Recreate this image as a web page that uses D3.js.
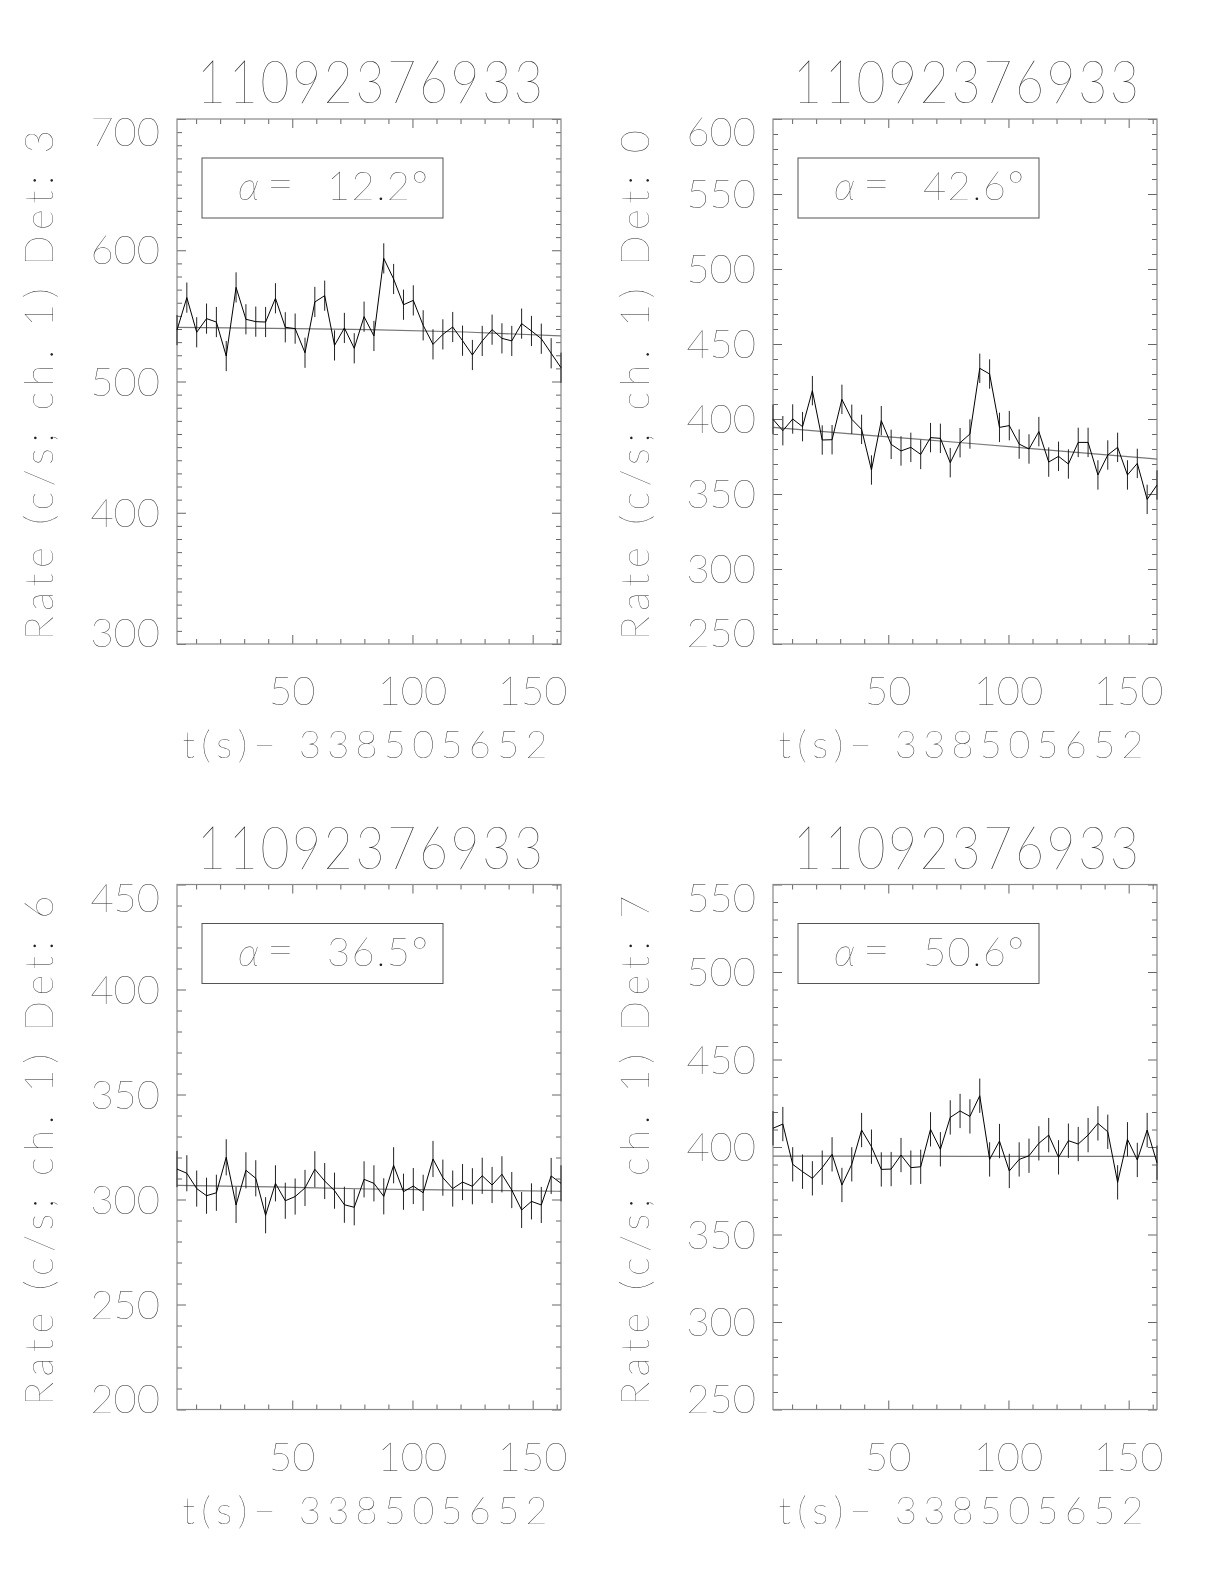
<!DOCTYPE html>
<html>
<head>
<meta charset="UTF-8" />
<title>rate curves</title>
<script src="https://cdn.jsdelivr.net/npm/d3@7/dist/d3.min.js"></script>
<style>
  body { margin: 0; background: #fff; }
  svg { will-change: transform; }
  text {
    font-family: "Lato Thin", "Lato", "DejaVu Sans", sans-serif;
    font-weight: 200;
    fill: #222;
  }
</style>
</head>
<body>
<svg width="1224" height="1584"></svg>
<script>
  // bin centres, s after t0
  var times = [2.05, 6.14, 10.24, 14.34, 18.43, 22.53, 26.62, 30.72, 34.82, 38.91,
    43.01, 47.10, 51.20, 55.30, 59.39, 63.49, 67.58, 71.68, 75.78, 79.87,
    83.97, 88.06, 92.16, 96.26, 100.35, 104.45, 108.54, 112.64, 116.74, 120.83,
    124.93, 129.02, 133.12, 137.22, 141.31, 145.41, 149.50, 153.60, 157.70, 161.79];

  // count rates, ch. 1
  var ratesDet3 = [539.2, 563.9, 537.5, 547.9, 545.3, 519.4, 571.7, 547.4, 545.6, 545.3,
    563.4, 541.3, 540.3, 521.9, 560.6, 565.4, 527.5, 540.8, 525.3, 549.4,
    534.7, 593.8, 578.1, 558.5, 561.8, 542.8, 528.3, 535.9, 541.5, 531.1,
    520.2, 530.9, 539.5, 532.9, 530.9, 544.1, 538.5, 532.6, 521.5, 510.5];
  var ratesDet0 = [399.8, 392.2, 400.0, 394.9, 418.9, 386.0, 386.2, 413.1, 399.8, 393.1,
    366.0, 398.9, 383.1, 378.7, 381.1, 376.4, 387.6, 387.1, 370.9, 384.2,
    390.0, 433.8, 430.0, 394.4, 395.6, 383.3, 380.0, 391.6, 371.3, 375.1,
    370.0, 384.4, 384.4, 362.7, 376.0, 381.1, 362.7, 370.4, 346.4, 356.0];
  var ratesDet6 = [314.5, 312.5, 305.2, 301.8, 303.2, 320.1, 297.4, 313.9, 310.1, 292.5,
    307.7, 299.4, 301.4, 305.5, 314.4, 308.8, 304.2, 297.5, 296.3, 309.6,
    307.7, 301.5, 316.3, 303.7, 306.4, 303.2, 319.3, 310.4, 305.2, 308.3,
    306.3, 311.3, 306.9, 312.0, 304.5, 295.0, 299.1, 297.4, 311.2, 307.7];
  var ratesDet7 = [410.7, 413.1, 390.1, 385.9, 382.1, 388.2, 395.8, 378.3, 390.1, 409.7,
    400.2, 387.2, 387.4, 395.4, 388.2, 388.7, 410.1, 398.7, 416.9, 420.6,
    417.5, 429.3, 392.9, 403.4, 386.3, 392.9, 395.0, 402.1, 406.8, 394.1,
    403.6, 401.7, 406.8, 413.5, 408.7, 379.8, 404.4, 392.6, 409.7, 391.0];

  // background fit, read at a few times
  var fitTimes = [2.05, 42, 82, 122, 161.79];
  var fitDet3 = [541.3, 540.5, 539.5, 537.7, 534.7];
  var fitDet0 = [394.4, 389.1, 384.0, 378.6, 373.3];
  var fitDet6 = [306.7, 306.0, 305.0, 304.5, 303.9];
  var fitDet7 = [394.8, 394.8, 394.7, 394.7, 394.6];

  var dets = ["3", "0", "6", "7"];
  var alphas = ["12.2", "42.6", "36.5", "50.6"];
  var errs = [11.5, 9.8, 8.6, 9.8];
  var yRanges = [[300, 700], [250, 600], [200, 450], [250, 550]];
  var yMajorStep = [100, 50, 50, 50];
  var xLabels = [50, 100, 150];
  var burstId = "11092376933";
  var tZero = "338505652";

  var rates = [ratesDet3, ratesDet0, ratesDet6, ratesDet7];
  var fits = [fitDet3, fitDet0, fitDet6, fitDet7];

  var svg = d3.select("svg");
  var colX = [177, 773];
  var rowY = [119, 884.5];
  var W = 384, H = 525;

  dets.forEach(function (det, i) {
    var cx = colX[i % 2], ry = rowY[Math.floor(i / 2)];
    var g = svg.append("g");

    var x = d3.scaleLinear().domain([times[0], times[times.length - 1]]).range([cx, cx + W]);
    var y = d3.scaleLinear().domain(yRanges[i]).range([ry + H, ry]);

    var lo = yRanges[i][0], hi = yRanges[i][1];
    var yMaj = d3.range(lo, hi + 1, yMajorStep[i]);
    var yMin = d3.range(lo, hi + 1, 10).filter(function (v) { return yMaj.indexOf(v) < 0; });
    var xMaj = xLabels;
    var xMin = d3.range(10, 161, 10).filter(function (v) { return xMaj.indexOf(v) < 0; });

    // ticks on all four sides, pointing in
    function ticks(axis, vals, size, tr) {
      var a = g.append("g").attr("transform", tr)
        .call(axis.tickValues(vals).tickSize(size).tickFormat(""));
      a.select(".domain").remove();
      a.selectAll("line").attr("stroke", "#666");
    }
    ticks(d3.axisBottom(x), xMin, -5, "translate(0," + (ry + H) + ")");
    ticks(d3.axisBottom(x), xMaj, -9, "translate(0," + (ry + H) + ")");
    ticks(d3.axisTop(x), xMin, -5, "translate(0," + ry + ")");
    ticks(d3.axisTop(x), xMaj, -9, "translate(0," + ry + ")");
    ticks(d3.axisLeft(y), yMin, -5, "translate(" + cx + ",0)");
    ticks(d3.axisLeft(y), yMaj, -9, "translate(" + cx + ",0)");
    ticks(d3.axisRight(y), yMin, -5, "translate(" + (cx + W) + ",0)");
    ticks(d3.axisRight(y), yMaj, -9, "translate(" + (cx + W) + ",0)");

    g.append("rect")
      .attr("x", cx).attr("y", ry).attr("width", W).attr("height", H)
      .attr("fill", "none").attr("stroke", "#888").attr("stroke-width", 1.2);

    // tick labels
    g.selectAll(".yl").data(yMaj).enter().append("text")
      .attr("x", cx - 17)
      .attr("y", function (v) {
        var c = Math.min(Math.max(y(v), ry + 13), ry + H - 11);
        return c + 14;
      })
      .attr("text-anchor", "end")
      .attr("font-size", 40)
      .text(function (v) { return v; });

    g.selectAll(".xl").data(xMaj).enter().append("text")
      .attr("x", function (v) { return x(v); })
      .attr("y", ry + 586)
      .attr("text-anchor", "middle")
      .attr("font-size", 40)
      .text(function (v) { return v; });

    // titles
    g.append("text")
      .attr("transform", "translate(" + (cx + 193) + "," + (ry - 16) + ") scale(1,1.2)")
      .attr("text-anchor", "middle")
      .attr("font-size", 50)
      .attr("textLength", 346).attr("lengthAdjust", "spacing")
      .text(burstId);

    g.append("text")
      .attr("x", cx + 188).attr("y", ry + 639)
      .attr("text-anchor", "middle")
      .attr("font-size", 38)
      .attr("textLength", 365).attr("lengthAdjust", "spacing")
      .text("t(s)\u2212 " + tZero);

    g.append("text")
      .attr("transform", "translate(" + (cx - 124) + "," + (ry + 266) + ") rotate(-90)")
      .attr("text-anchor", "middle")
      .attr("font-size", 40)
      .attr("textLength", 510).attr("lengthAdjust", "spacing")
      .text("Rate (c/s; ch. 1) Det: " + det);

    // legend box
    g.append("rect")
      .attr("x", cx + 25).attr("y", ry + 39).attr("width", 241).attr("height", 60)
      .attr("fill", "none").attr("stroke", "#555").attr("stroke-width", 1);
    var lt = g.append("text").attr("y", ry + 81).attr("font-size", 40);
    lt.append("tspan").attr("x", cx + 61).attr("font-style", "italic").text("\u03b1");
    lt.append("tspan").attr("x", cx + 90).attr("font-size", 46).text("=");
    lt.append("tspan").attr("x", cx + 150)
      .attr("textLength", 101).attr("lengthAdjust", "spacing")
      .text(alphas[i] + "\u00b0");

    // fit
    var fitPts = fitTimes.map(function (t, k) { return [t, fits[i][k]]; });
    g.append("path")
      .datum(fitPts)
      .attr("fill", "none").attr("stroke", "#777").attr("stroke-width", 1.2)
      .attr("d", d3.line()
        .x(function (d) { return x(d[0]); })
        .y(function (d) { return y(d[1]); })
        .curve(d3.curveMonotoneX));

    // error bars
    var pts = times.map(function (t, k) { return { t: t, r: rates[i][k] }; });
    g.selectAll(".eb").data(pts).enter().append("line")
      .attr("x1", function (d) { return x(d.t); })
      .attr("x2", function (d) { return x(d.t); })
      .attr("y1", function (d) { return y(d.r - errs[i]); })
      .attr("y2", function (d) { return y(d.r + errs[i]); })
      .attr("stroke", "#222").attr("stroke-width", 1);

    // rate curve
    g.append("path")
      .datum(pts)
      .attr("fill", "none").attr("stroke", "#000").attr("stroke-width", 1)
      .attr("d", d3.line()
        .x(function (d) { return x(d.t); })
        .y(function (d) { return y(d.r); }));
  });
</script>
</body>
</html>
